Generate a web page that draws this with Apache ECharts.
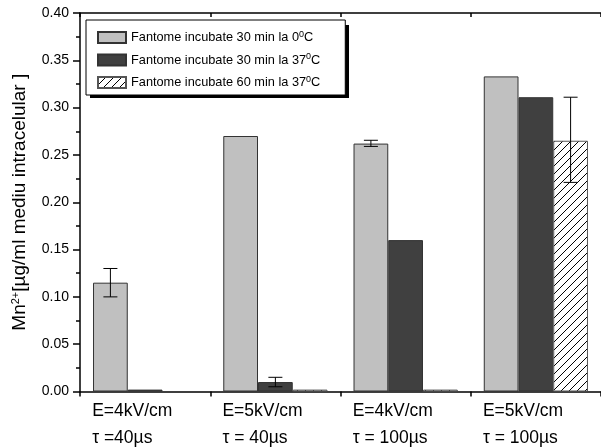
<!DOCTYPE html>
<html><head><meta charset="utf-8">
<script src="https://cdn.jsdelivr.net/npm/echarts@6/dist/echarts.min.js"></script>
<style>html,body{margin:0;padding:0;background:#fff}#c{width:601px;height:447px}</style>
</head><body><div id="c"></div>
<script>
var categories = ['E=4kV/cm\nτ =40µs', 'E=5kV/cm\nτ = 40µs', 'E=4kV/cm\nτ = 100µs', 'E=5kV/cm\nτ = 100µs'];
var seriesNames = ['Fantome incubate 30 min la 0{sup|0}C', 'Fantome incubate 30 min la 37{sup|0}C', 'Fantome incubate 60 min la 37{sup|0}C'];
var gray30min0C = [0.115, 0.270, 0.262, 0.333];
var dark30min37C = [0.002, 0.010, 0.160, 0.311];
var hatch60min37C = [null, 0.002, 0.002, 0.265];
// error bars: [categoryIndex, seriesIndex, low, high]
var errorBars = [[0, 0, 0.100, 0.130], [1, 1, 0.005, 0.015], [2, 0, 0.259, 0.2655], [3, 2, 0.221, 0.311]];
var yTicks = {min: 0, max: 0.40, interval: 0.05};

var cv = document.createElement('canvas');
cv.width = 8; cv.height = 8;
var cx = cv.getContext('2d');
cx.fillStyle = '#fff'; cx.fillRect(0, 0, 8, 8);
cx.strokeStyle = '#000'; cx.lineWidth = 1;
cx.beginPath(); cx.moveTo(-1, 9); cx.lineTo(9, -1); cx.stroke();
cx.beginPath(); cx.moveTo(-1, 1); cx.lineTo(1, -1); cx.stroke();
cx.beginPath(); cx.moveTo(7, 9); cx.lineTo(9, 7); cx.stroke();

var chart = echarts.init(document.getElementById('c'));
var catGap = 0.2;
function barStyle(c) { return {color: c, borderColor: '#333', borderWidth: 1}; }
chart.setOption({
  animation: false,
  textStyle: {fontFamily: 'Liberation Sans'},
  grid: {left: 80, right: -5, top: 13, bottom: 55},
  graphic: [{type: 'rect', left: 90, top: 25, z: 0, zlevel: 0, shape: {width: 259, height: 73}, style: {fill: '#000'}}],
  legend: {
    orient: 'vertical', left: 86, top: 20, z: 5,
    padding: [10, 25, 5, 11], itemWidth: 28, itemHeight: 11, itemGap: 7.5,
    icon: 'rect',
    backgroundColor: '#fff', borderColor: '#000', borderWidth: 1,
    formatter: function (n) { return n; },
    textStyle: {fontSize: 12.75, lineHeight: 15, color: '#000', rich: {sup: {fontSize: 9, lineHeight: 9, padding: [0, 0, 6, 0], color: '#000'}}},
    data: seriesNames
  },
  xAxis: [{
    type: 'category', data: categories,
    axisLine: {lineStyle: {color: '#000', width: 1.5}},
    axisTick: {show: true, length: 5, lineStyle: {color: '#000', width: 1.5}},
    axisLabel: {
      margin: 6, color: '#000',
      formatter: function (v) { return v.split('\n').map(function (s) { return '{a|' + s + '}'; }).join('\n'); },
      rich: {a: {fontSize: 17.5, width: 106, align: 'left', lineHeight: 27, color: '#000'}}
    }
  }, {
    type: 'category', data: categories, position: 'top',
    axisLine: {lineStyle: {color: '#000', width: 1.5}},
    axisTick: {show: true, inside: true, length: 4, lineStyle: {color: '#000', width: 1.5}},
    axisLabel: {show: false}
  }],
  yAxis: {
    type: 'value', min: yTicks.min, max: yTicks.max, interval: yTicks.interval,
    name: 'Mn{sup|2+}[µg/ml mediu intracelular ]', nameLocation: 'middle', nameGap: 50, nameRotate: 90,
    nameTextStyle: {fontSize: 19, color: '#000', rich: {sup: {fontSize: 11, padding: [0, 0, 9, 0], color: '#000'}}},
    axisLine: {show: true, lineStyle: {color: '#000', width: 1.5}},
    axisTick: {show: true, length: 7, lineStyle: {color: '#000', width: 1.5}},
    minorTick: {show: true, splitNumber: 2, length: 4, lineStyle: {color: '#000', width: 1.5}},
    splitLine: {show: false},
    axisLabel: {fontSize: 14, color: '#000', margin: 11, formatter: function (v) { return v.toFixed(2); }}
  },
  series: [
    {type: 'bar', name: seriesNames[0], data: gray30min0C, barGap: '0%', barCategoryGap: (catGap * 100) + '%', itemStyle: barStyle('#c0c0c0')},
    {type: 'bar', name: seriesNames[1], data: dark30min37C, itemStyle: barStyle('#404040')},
    {type: 'bar', name: seriesNames[2], data: hatch60min37C, itemStyle: {color: {image: cv, repeat: 'repeat'}, borderColor: '#555', borderWidth: 1}},
    {
      type: 'custom', data: errorBars, encode: {x: 0, y: [2, 3]}, z: 10,
      renderItem: function (params, api) {
        var ci = api.value(0), si = api.value(1);
        var band = api.size([1, 0])[0];
        var bw = band * (1 - catGap) / 3;
        var c = api.coord([ci, 0])[0];
        var x = c - band * (1 - catGap) / 2 + bw * (si + 0.5);
        var lo = api.coord([ci, api.value(2)])[1];
        var hi = api.coord([ci, api.value(3)])[1];
        var s = {stroke: '#000', lineWidth: 1};
        return {type: 'group', children: [
          {type: 'line', shape: {x1: x, y1: lo, x2: x, y2: hi}, style: s},
          {type: 'line', shape: {x1: x - 7, y1: lo, x2: x + 7, y2: lo}, style: s},
          {type: 'line', shape: {x1: x - 7, y1: hi, x2: x + 7, y2: hi}, style: s}
        ]};
      }
    }
  ]
});
</script></body></html>
